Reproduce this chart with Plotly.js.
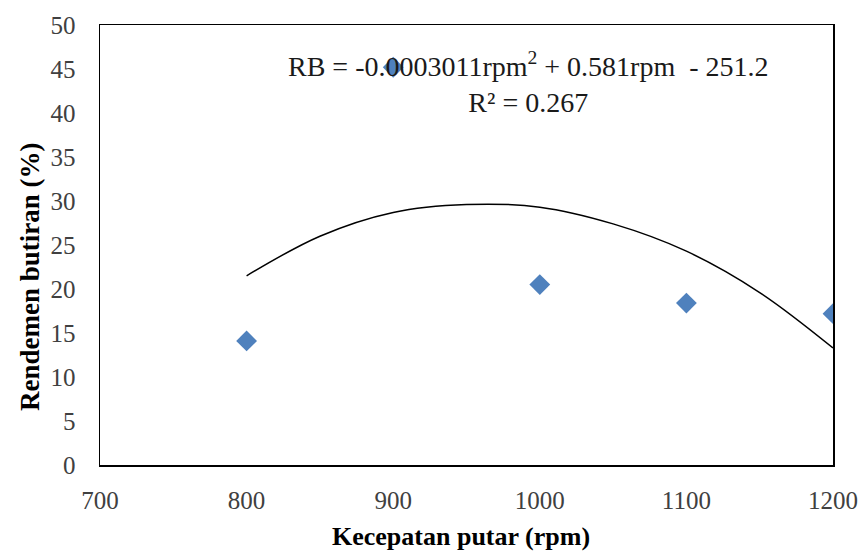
<!DOCTYPE html>
<html>
<head>
<meta charset="utf-8">
<script src="https://cdn.plot.ly/plotly-3.0.1.min.js"></script>
<style>html,body{margin:0;padding:0;background:#fff;}#chart{width:864px;height:553px;}</style>
</head>
<body>
<div id="chart"></div>
<script>
const rpm = [800, 900, 1000, 1100, 1200];
const rendemen = [14.1, 45.2, 20.5, 18.4, 17.2];
const trendX = [800, 850, 900, 950, 1000, 1050, 1100, 1150, 1200];
const trendY = [21.5, 26.0, 28.7, 29.6, 29.3, 27.4, 24.3, 19.6, 13.3];
const xTicks = [700, 800, 900, 1000, 1100, 1200];
const yTicks = [0, 5, 10, 15, 20, 25, 30, 35, 40, 45, 50];
const xTitle = 'Kecepatan putar (rpm)';
const yTitle = 'Rendemen butiran (%)';

const font = "'Liberation Serif'";

const traces = [
  {x: trendX, y: trendY, mode: 'lines', type: 'scatter', line: {color: '#000', width: 1.5, shape: 'spline'}, hoverinfo: 'skip'},
  {x: rpm, y: rendemen, mode: 'markers', type: 'scatter', marker: {symbol: 'diamond', size: 16, color: '#4f81bd'}}
];

const layout = {
  width: 864, height: 553,
  margin: {l: 100, r: 31, t: 25, b: 88},
  showlegend: false,
  paper_bgcolor: '#fff', plot_bgcolor: '#fff',
  font: {family: font, size: 24, color: '#404040'},
  xaxis: {
    range: [700, 1200], tickvals: xTicks, ticktext: xTicks.map(String),
    showgrid: false, zeroline: false, showline: true, mirror: true, linecolor: '#000', linewidth: 1.5,
    ticks: '', ticklabelstandoff: 12,
    tickfont: {family: font, size: 25, color: '#404040'}
  },
  yaxis: {
    range: [0, 50], tickvals: yTicks, ticktext: yTicks.map(String),
    showgrid: false, zeroline: false, showline: true, mirror: true, linecolor: '#000', linewidth: 1.5,
    ticks: '', ticklabelstandoff: 18,
    tickfont: {family: font, size: 25, color: '#404040'}
  },
  annotations: [
    {
      xref: 'paper', yref: 'paper', x: 0.584, y: 0.87, xanchor: 'center', yanchor: 'middle',
      text: 'RB = -0.0003011rpm<sup>2</sup> + 0.581rpm  - 251.2<br>R² = 0.267',
      showarrow: false, align: 'center',
      font: {family: font, size: 28, color: '#1a1a1a'}
    },
    {
      xref: 'paper', yref: 'paper', x: (461 - 100) / 733, y: -(536 - 465) / 440, xanchor: 'center', yanchor: 'middle',
      text: '<b>' + xTitle + '</b>', showarrow: false,
      font: {family: font, size: 26, color: '#000'}
    },
    {
      xref: 'paper', yref: 'paper', x: -(100 - 30) / 733, y: (465 - 277) / 440, xanchor: 'center', yanchor: 'middle',
      text: '<b>' + yTitle + '</b>', showarrow: false, textangle: -90,
      font: {family: font, size: 27, color: '#000'}
    }
  ]
};

Plotly.newPlot('chart', traces, layout, {displayModeBar: false, staticPlot: true});
</script>
</body>
</html>
